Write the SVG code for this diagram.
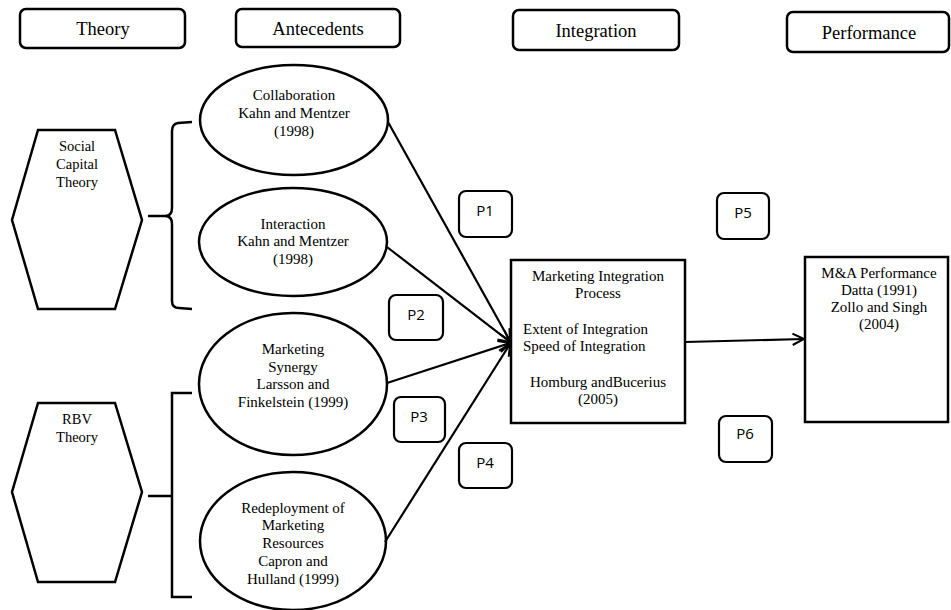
<svg xmlns="http://www.w3.org/2000/svg" width="951" height="610" viewBox="0 0 951 610">
<style>
.hdr{fill:#fff;stroke:#000;stroke-width:2.5}
.shape{fill:#fff;stroke:#000;stroke-width:2.5}
.pbox{fill:#fff;stroke:#000;stroke-width:2.2}
.br{fill:none;stroke:#000;stroke-width:2.5}
.t{font-family:"Liberation Serif","Times New Roman",serif;font-size:15px;fill:#000;text-anchor:middle}
.th{font-family:"Liberation Serif","Times New Roman",serif;font-size:18.5px;fill:#000;text-anchor:middle}
.ts{font-family:"Liberation Serif","Times New Roman",serif;font-size:14.5px;fill:#000;text-anchor:middle}
.tp{font-family:"Open Sans","Liberation Sans",sans-serif;font-size:15px;fill:#000;text-anchor:middle}
.c{fill:none;stroke:#000;stroke-width:2.2}
</style>
<defs>
<marker id="arr" viewBox="0 0 10 10" refX="9" refY="5" markerWidth="6.5" markerHeight="6.5" orient="auto" markerUnits="strokeWidth">
<path d="M1,1 L9,5 L1,9" fill="none" stroke="#000" stroke-width="1.4"/>
</marker>
</defs>

<g id="hdr-theory"><rect class="hdr" x="20" y="9" width="165" height="39" rx="6"/><text class="th" x="103" y="35">Theory</text></g>
<g id="hdr-antecedents"><rect class="hdr" x="236" y="9" width="164" height="38" rx="6"/><text class="th" x="318" y="35">Antecedents</text></g>
<g id="hdr-integration"><rect class="hdr" x="513" y="10" width="166" height="40" rx="6"/><text class="th" x="596" y="37">Integration</text></g>
<g id="hdr-performance"><rect class="hdr" x="787" y="12" width="162" height="40" rx="6"/><text class="th" x="869" y="39">Performance</text></g>

<g id="social-capital-theory">
<polygon class="shape" points="38,130 115,130 142,220 115,309 38,309 12,220"/>
<text class="ts" x="77" y="151">Social</text><text class="ts" x="77" y="169">Capital</text><text class="ts" x="77" y="187">Theory</text>
</g>
<g id="rbv-theory">
<polygon class="shape" points="38,403 115,403 142,492 115,582 38,582 12,492"/>
<text class="ts" x="77" y="424">RBV</text><text class="ts" x="77" y="442">Theory</text>
</g>

<g id="bracket-upper"><path class="br" d="M192,122 L178,123 Q172,124 172,131 L172,208 Q172,216 165,216 L148,216 M165,216 Q172,216 172,224 L172,301 Q172,308 179,308 L192,309"/></g>
<g id="bracket-lower"><path class="br" d="M192,393 L172,393 L172,597 L192,597 M148,496 L172,496"/></g>

<g id="collaboration"><ellipse class="shape" cx="294" cy="120" rx="94" ry="55"/>
<text class="t" x="294" y="100">Collaboration</text><text class="t" x="294" y="118">Kahn and Mentzer</text><text class="t" x="294" y="136">(1998)</text></g>
<g id="interaction"><ellipse class="shape" cx="293" cy="242" rx="94" ry="54"/>
<text class="t" x="293" y="229">Interaction</text><text class="t" x="293" y="246">Kahn and Mentzer</text><text class="t" x="293" y="264">(1998)</text></g>
<g id="marketing-synergy"><ellipse class="shape" cx="293" cy="384" rx="94" ry="71"/>
<text class="t" x="293" y="354">Marketing</text><text class="t" x="293" y="372">Synergy</text><text class="t" x="293" y="389">Larsson and</text><text class="t" x="293" y="407">Finkelstein (1999)</text></g>
<g id="redeployment"><ellipse class="shape" cx="293" cy="541" rx="93" ry="69"/>
<text class="t" x="293" y="513">Redeployment of</text><text class="t" x="293" y="530">Marketing</text><text class="t" x="293" y="548">Resources</text><text class="t" x="293" y="566">Capron and</text><text class="t" x="293" y="584">Hulland (1999)</text></g>

<g id="integration-process"><rect class="shape" x="511" y="260" width="174" height="163"/>
<text class="t" x="598" y="281">Marketing Integration</text><text class="t" x="598" y="298">Process</text>
<text class="t" x="523" y="334" style="text-anchor:start">Extent of Integration</text><text class="t" x="523" y="351" style="text-anchor:start">Speed of Integration</text>
<text class="t" x="598" y="387">Homburg andBucerius</text><text class="t" x="598" y="404">(2005)</text></g>
<g id="ma-performance"><rect class="shape" x="805" y="257" width="143" height="165"/>
<text class="t" x="879" y="278">M&amp;A Performance</text><text class="t" x="879" y="295">Datta (1991)</text><text class="t" x="879" y="312">Zollo and Singh</text><text class="t" x="879" y="329">(2004)</text></g>

<g id="p1"><rect class="pbox" x="459" y="191" width="53" height="46" rx="7"/><text class="tp" x="485" y="216">P1</text></g>
<g id="p2"><rect class="pbox" x="389" y="295" width="54" height="45" rx="7"/><text class="tp" x="416" y="320">P2</text></g>
<g id="p3"><rect class="pbox" x="394" y="397" width="51" height="45" rx="7"/><text class="tp" x="419" y="422">P3</text></g>
<g id="p4"><rect class="pbox" x="459" y="443" width="53" height="45" rx="7"/><text class="tp" x="485" y="468">P4</text></g>
<g id="p5"><rect class="pbox" x="717" y="193" width="52" height="46" rx="7"/><text class="tp" x="743" y="218">P5</text></g>
<g id="p6"><rect class="pbox" x="719" y="416" width="53" height="46" rx="7"/><text class="tp" x="745" y="439">P6</text></g>

<g id="connectors">
<line class="c" x1="388" y1="122" x2="510" y2="341" marker-end="url(#arr)"/>
<line class="c" x1="387" y1="247" x2="510" y2="342" marker-end="url(#arr)"/>
<line class="c" x1="387" y1="383" x2="510" y2="343" marker-end="url(#arr)"/>
<line class="c" x1="385" y1="542" x2="510" y2="344" marker-end="url(#arr)"/>
<line class="c" x1="685" y1="342" x2="804" y2="339" marker-end="url(#arr)"/>
</g>
</svg>
